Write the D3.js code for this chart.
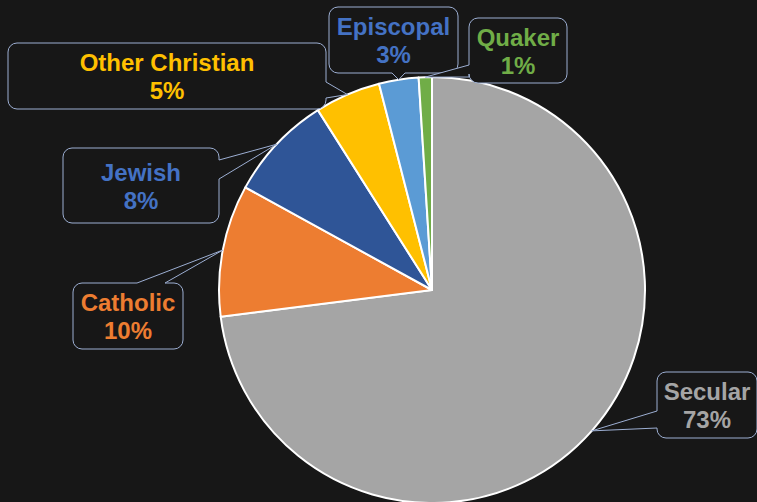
<!DOCTYPE html>
<html>
<head>
<meta charset="utf-8">
<script src="https://cdn.jsdelivr.net/npm/d3@7"></script>
<style>
  html, body { margin: 0; padding: 0; background: #171717; }
  svg { display: block; }
</style>
</head>
<body>
<svg id="chart" width="757" height="502"></svg>
<script>
// ---- data ----
const categories = ["Secular", "Catholic", "Jewish", "Other Christian", "Episcopal", "Quaker"];
const values = [73, 10, 8, 5, 3, 1];
const sliceColors = ["#A5A5A5", "#ED7D31", "#2F5597", "#FFC000", "#5B9BD5", "#70AD47"];
const labelColors = ["#A5A5A5", "#ED7D31", "#4472C4", "#FFC000", "#4472C4", "#70AD47"];

// ---- callout layout (box position, side of wedge, wedge base) ----
const callouts = [
  { x: 657, y: 372, w: 100, h: 66, side: "left",   b: [428, 411] },
  { x: 73,  y: 283, w: 110, h: 66, side: "top",    b: [137, 165] },
  { x: 63,  y: 148, w: 156, h: 75, side: "right",  b: [160, 179] },
  { x: 8,   y: 43,  w: 318, h: 66, side: "right",  b: [82, 98] },
  { x: 329, y: 7,   w: 129, h: 66, side: "bottom", b: [405, 392] },
  { x: 469, y: 18,  w: 98,  h: 65, side: "left",   b: [77, 65] }
];

const W = 757, H = 502;
const cx = 432, cy = 290, R = 213;
const svg = d3.select("#chart");
svg.append("rect").attr("width", W).attr("height", H).attr("fill", "#171717");

const pie = d3.pie().sort(null).value(d => d).startAngle(0).endAngle(2 * Math.PI);
const arcs = pie(values);
const arc = d3.arc().innerRadius(0).outerRadius(R);
const edge = d3.arc().innerRadius(R).outerRadius(R);

const g = svg.append("g").attr("transform", `translate(${cx},${cy})`);
g.selectAll("path.slice").data(arcs).enter().append("path")
  .attr("class", "slice")
  .attr("d", arc)
  .attr("fill", (d, i) => sliceColors[i])
  .attr("stroke", "#FFFFFF")
  .attr("stroke-width", 2)
  .attr("stroke-linejoin", "round");

function calloutPath(c, tip) {
  const r = 9;
  const { x, y, w, h } = c;
  const p = d3.path();
  p.moveTo(x + r, y);
  if (c.side === "top") { p.lineTo(c.b[0], y); p.lineTo(tip[0], tip[1]); p.lineTo(c.b[1], y); }
  p.lineTo(x + w - r, y);
  p.arcTo(x + w, y, x + w, y + r, r);
  if (c.side === "right") { p.lineTo(x + w, c.b[0]); p.lineTo(tip[0], tip[1]); p.lineTo(x + w, c.b[1]); }
  p.lineTo(x + w, y + h - r);
  p.arcTo(x + w, y + h, x + w - r, y + h, r);
  if (c.side === "bottom") { p.lineTo(c.b[0], y + h); p.lineTo(tip[0], tip[1]); p.lineTo(c.b[1], y + h); }
  p.lineTo(x + r, y + h);
  p.arcTo(x, y + h, x, y + h - r, r);
  if (c.side === "left") { p.lineTo(x, c.b[0]); p.lineTo(tip[0], tip[1]); p.lineTo(x, c.b[1]); }
  p.lineTo(x, y + r);
  p.arcTo(x, y, x + r, y, r);
  p.closePath();
  return p.toString();
}

const labels = svg.append("g");
arcs.forEach((d, i) => {
  const c = callouts[i];
  const m = edge.centroid(d);
  const tip = [cx + m[0], cy + m[1]];
  labels.append("path")
    .attr("d", calloutPath(c, tip))
    .attr("fill", "#171717")
    .attr("stroke", "#9DAFD3")
    .attr("stroke-width", 1);
  const tx = c.x + c.w / 2, ty = c.y + c.h / 2;
  const t = labels.append("text")
    .attr("x", tx)
    .attr("text-anchor", "middle")
    .attr("font-family", "'Liberation Sans', Arial, sans-serif")
    .attr("font-weight", "bold")
    .attr("font-size", 24)
    .attr("fill", labelColors[i]);
  t.append("tspan").attr("x", tx).attr("y", ty - 5).text(categories[i]);
  t.append("tspan").attr("x", tx).attr("y", ty + 23).text(values[i] + "%");
});
</script>
</body>
</html>
